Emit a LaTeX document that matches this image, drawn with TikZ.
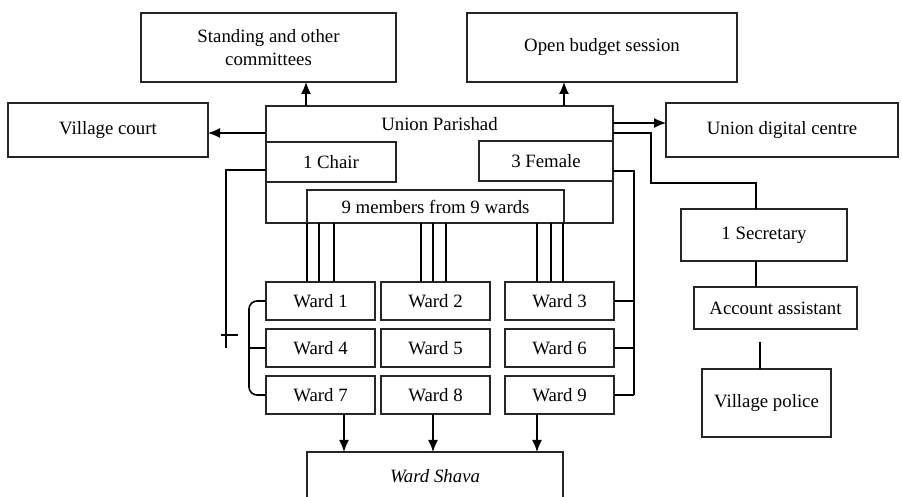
\documentclass[tikz,border=0pt]{standalone}
\usepackage{fontspec}
\setmainfont{Liberation Serif}
\usetikzlibrary{arrows.meta,positioning}
\begin{document}
\begin{tikzpicture}[x=0.5pt, y=-0.5pt, >={Latex[length=6pt,width=5pt]}, font=\fontsize{9.4}{11.5}\selectfont]
    \tikzstyle{block} = [draw=black!85, line width=0.6pt, rectangle, inner sep=0pt, outer sep=0pt, align=center]
    \tikzstyle{ward} = [block, minimum width=54.5pt, minimum height=19pt]
    \tikzstyle{link} = [line width=0.6pt]
    \tikzstyle{wire} = [line width=1pt]

    \useasboundingbox (0,0) rectangle (902,497);

    % top row and the council
    \node [block, minimum width=127.5pt, minimum height=34.5pt] (standing) at (268.5,47.5) {Standing and other\\committees};
    \node [block, minimum width=135pt, minimum height=34.5pt] (budget) at (602,47.5) {Open budget session};
    \node [block, minimum width=100pt, minimum height=27pt] (vcourt) at (108,130) {Village court};
    \node [block, minimum width=116pt, minimum height=27pt] (digital) at (782,130) {Union digital centre};
    \node [block, minimum width=173.5pt, minimum height=58.5pt] (up) at (439.5,164.5) {};
    \node (uptitle) at (439.5,124) {Union Parishad};
    \node [block, minimum width=65pt, minimum height=20pt] (chair) at (331,162) {1 Chair};
    \node [block, minimum width=67pt, minimum height=20pt] (female) at (546,161) {3 Female};
    \node [block, minimum width=128.5pt, minimum height=16.5pt] (members) at (435.5,206.5) {9 members from 9 wards};

    % staff
    \node [block, minimum width=83pt, minimum height=26pt] (secretary) at (764,235) {1 Secretary};
    \node [block, minimum width=81.5pt, minimum height=21pt] (account) at (775.5,308) {Account assistant};
    \node [block, minimum width=64.5pt, minimum height=34pt] (vpolice) at (766.5,403) {Village police};

    % wards
    \node [ward] (ward1) at (320.5,301) {Ward 1};
    \node [ward, right=3pt of ward1] (ward2) {Ward 2};
    \node [ward, right=7.5pt of ward2] (ward3) {Ward 3};
    \node [ward, below=4.5pt of ward1] (ward4) {Ward 4};
    \node [ward, below=4.5pt of ward2] (ward5) {Ward 5};
    \node [ward, below=4.5pt of ward3] (ward6) {Ward 6};
    \node [ward, below=4.5pt of ward4] (ward7) {Ward 7};
    \node [ward, below=4.5pt of ward5] (ward8) {Ward 8};
    \node [ward, below=4.5pt of ward6] (ward9) {Ward 9};
    \node [block, minimum width=128pt, minimum height=24pt, anchor=north] (shava) at (435,452) {\textit{Ward Shava}};

    % council outputs
    \coordinate (upA) at ([xshift=20pt]up.north west);
    \coordinate (upB) at ([xshift=-24.5pt]up.north east);
    \coordinate (upC) at ([yshift=-13.5pt]up.north west);
    \coordinate (upD) at ([yshift=-8.5pt]up.north east);
    \draw [link, ->] (upA) -- (upA |- standing.south);
    \draw [link, ->] (upB) -- (upB |- budget.south);
    \draw [link, ->] (upC) -- (upC -| vcourt.east);
    \draw [link, ->] (upD) -- (upD -| digital.west);

    % secretary line
    \coordinate (secA) at ([xshift=-4pt]secretary.south);
    \coordinate (vpstub) at (760,342);
    \draw [wire] ([yshift=-13.5pt]up.north east) -| ++(38,50) -| ([xshift=-4pt]secretary.north);
    \draw [wire] (secA) -- (secA |- account.north);
    \draw [wire] (vpstub) -- (vpstub |- vpolice.north);

    % chair and female lines
    \coordinate (chairend) at (226,348);
    \coordinate (tickl) at (221,335);
    \draw [wire] ([yshift=-4pt]chair.west) -| (chairend);
    \draw [wire] (tickl) -- ++(17,0);
    \draw [wire] ([yshift=-5pt]female.east) -| ([xshift=10pt]ward9.east);
    \foreach \w in {3,6,9}
        \draw [wire] (ward\w.east) -- ++(20,0);

    % bracket on the left
    \draw [line width=0.8pt, rounded corners=4pt] (ward1.west) -- ++(-17,0) |- (ward7.west);
    \draw [line width=0.8pt] (ward4.west) -- ++(-17,0);

    % members to wards
    \foreach \x in {307,319,334,421,433,446,537,551,563}
        \draw [wire] (\x,0 |- members.south) -- (\x,0 |- ward1.north);

    % wards to ward shava
    \foreach \x/\w in {344/7,433/8,537/9}
        \draw [line width=0.8pt, ->] (\x,0 |- ward\w.south) -- (\x,0 |- shava.north);
\end{tikzpicture}
\end{document}
